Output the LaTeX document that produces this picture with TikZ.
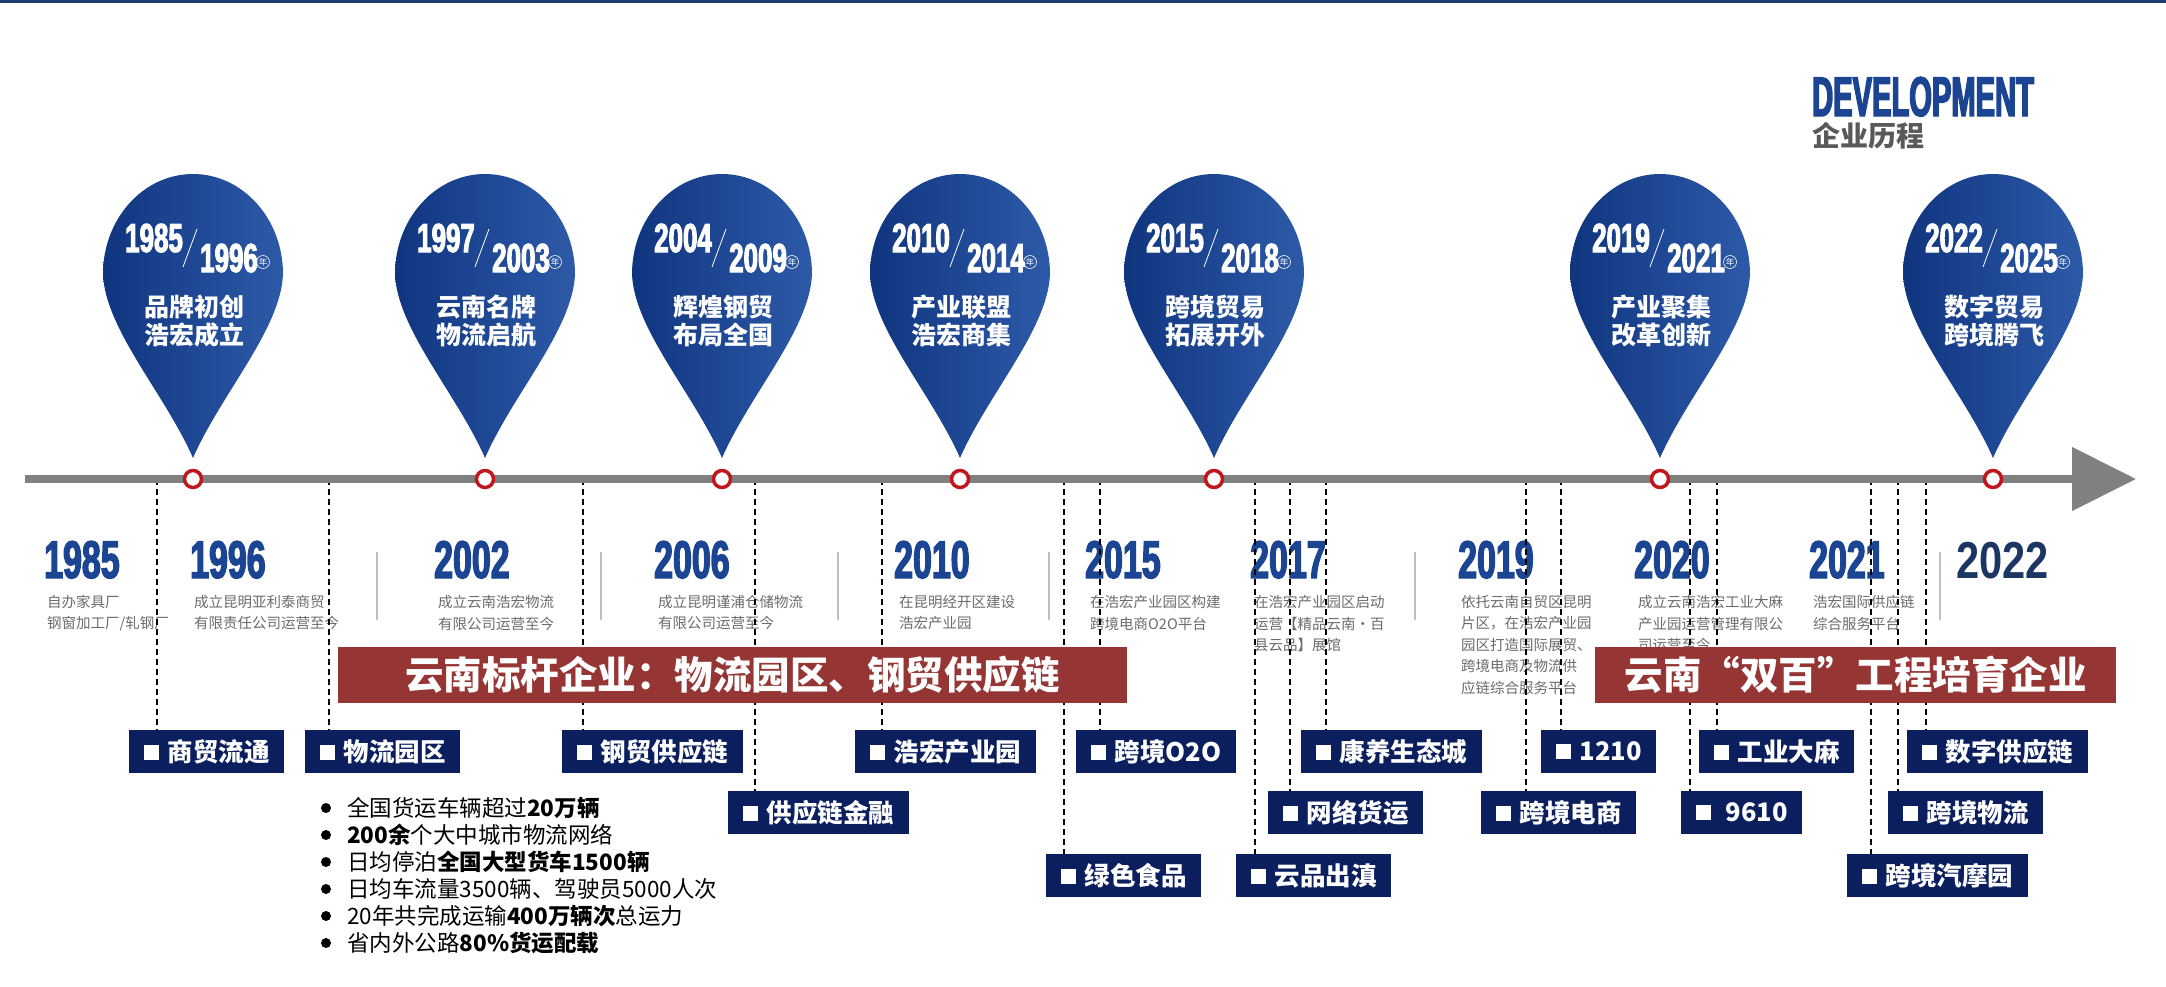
\documentclass[tikz,border=0pt]{standalone}
\usepackage{fontspec}
\setmainfont{Noto Sans CJK SC}
\newfontfamily\yearfont[FakeStretch=0.64, FakeBold=2.5]{Liberation Sans}
\newfontfamily\wideyear[FakeStretch=0.8]{Liberation Sans}
\newfontfamily\titlefont[FakeStretch=0.52, FakeBold=2.5]{Liberation Sans}
\usetikzlibrary{arrows.meta, positioning}

\definecolor{navybox}{HTML}{0B1F5E}
\definecolor{bannerred}{HTML}{963634}
\definecolor{pinleft}{HTML}{10357F}
\definecolor{pinright}{HTML}{2D5AA8}
\definecolor{yearblue}{HTML}{1B4592}
\definecolor{yeardark}{HTML}{1B3663}
\definecolor{ringred}{HTML}{C0161E}
\definecolor{linegray}{HTML}{808080}
\definecolor{textgray}{HTML}{6B6B6B}
\definecolor{topnavy}{HTML}{1F3A6E}

\newcommand{\sq}{\rule[1.5pt]{15pt}{15pt}\hspace{9pt}}

\begin{document}
\begin{tikzpicture}[x=1pt, y=-1pt,
    pinfill/.style={left color=pinleft, right color=pinright, draw=none},
    pinyear/.style={anchor=base west, inner sep=0, text=white, font={\yearfont\bfseries\fontsize{40.5}{40.5}\selectfont}},
    nian/.style={circle, draw=white, line width=0.6pt, inner sep=0.3pt, minimum size=13pt, text=white, font={\fontsize{8.5}{8.5}\selectfont}},
    motto/.style={align=center, inner sep=0, text=white, font={\bfseries\fontsize{25}{28}\selectfont}},
    ring/.style={circle, draw=ringred, line width=3.5pt, fill=white, minimum size=17pt, inner sep=0},
    bigyear/.style={anchor=base west, inner sep=0, text=yearblue, font={\yearfont\bfseries\fontsize{53}{53}\selectfont}},
    desc/.style={anchor=north west, inner sep=0, align=left, text=textgray, font={\fontsize{14.5}{21.5}\selectfont}},
    tagbox/.style={fill=navybox, text=white, minimum height=43pt, inner xsep=14.5pt, inner ysep=0, font={\bfseries\fontsize{25.5}{25.5}\selectfont}},
    leader/.style={black, line width=1.5pt, dash pattern=on 6pt off 4pt},
    banner/.style={fill=bannerred, text=white, inner sep=0, minimum height=56pt, font={\bfseries\fontsize{38.5}{38.5}\selectfont}},
    fact/.style={anchor=west, inner sep=0, text=black, font={\fontsize{22.5}{27}\selectfont}},
    sep/.style={draw=black!25, line width=1.5pt}]

    \useasboundingbox (0,0) rectangle (2166,986);

    % Top rule and title
    \draw[topnavy, line width=3pt] (0,1) -- (2166,1);
    \node[anchor=base west, inner sep=0, text depth=0pt, text=yearblue, font={\titlefont\bfseries\fontsize{56}{56}\selectfont}] (devtitle) at (1812,116) {DEVELOPMENT};
    \node[anchor=base west, inner sep=0, text height=21pt, text depth=0pt, text=black!65, font={\bfseries\fontsize{28}{28}\selectfont}] (devsub) at (1812,146) {企业历程};

    % Years under the timeline
    \foreach \yr/\yx in {1985/44, 1996/190, 2002/434, 2006/654, 2010/894, 2015/1085, 2017/1250, 2019/1458, 2020/1634, 2021/1809}
        \node[bigyear] (year\yr) at (\yx,578) {\yr};
    \node[anchor=base west, inner sep=0, text=yeardark, font={\wideyear\bfseries\fontsize{52}{52}\selectfont}] (year2022) at (1956,578) {2022};

    \foreach \sx in {377, 601, 838, 1049, 1415, 1940}
        \draw[sep] (\sx,552) -- (\sx,620);

    % Descriptions
    \node[desc] (d1985) at (47,595) {自办家具厂\\钢窗加工厂/轧钢厂};
    \node[desc] (d1996) at (194,595) {成立昆明亚利泰商贸\\有限责任公司运营至今};
    \node[desc] (d2002) at (438,595) {成立云南浩宏物流\\有限公司运营至今};
    \node[desc] (d2006) at (658,595) {成立昆明谨浦仓储物流\\有限公司运营至今};
    \node[desc] (d2010) at (899,595) {在昆明经开区建设\\浩宏产业园};
    \node[desc] (d2015) at (1090,595) {在浩宏产业园区构建\\跨境电商O2O平台};
    \node[desc] (d2017) at (1254,595) {在浩宏产业园区启动\\运营【精品云南·百\\县云品】展馆};
    \node[desc] (d2019) at (1461,595) {依托云南自贸区昆明\\片区，在浩宏产业园\\园区打造国际展贸、\\跨境电商及物流供\\应链综合服务平台};
    \node[desc] (d2020) at (1638,595) {成立云南浩宏工业大麻\\产业园运营管理有限公\\司运营至今};
    \node[desc] (d2021) at (1813,595) {浩宏国际供应链\\综合服务平台};

    % Business tags hanging from the timeline
    \foreach \nm/\bx/\by/\dx/\txt in {
        shangmao/129/751.5/157/商贸流通, wuliu/305/751.5/329/物流园区,
        gangmao/562/751.5/583/钢贸供应链, chanyeyuan/855/751.5/882/浩宏产业园,
        otoo/1076/751.5/1100/跨境O2O, kangyang/1301/751.5/1326/康养生态城,
        kj1210/1541/751.5/1561/1210, dama/1699/751.5/1717/工业大麻,
        shuzi/1907/751.5/1926/数字供应链,
        jinrong/728/812.5/755/供应链金融, huoyun/1268/812.5/1290/网络货运,
        dianshang/1481/812.5/1526/跨境电商, kj9610/1681/812.5/1690/\hspace{6pt}9610,
        kjwuliu/1888/812.5/1898/跨境物流,
        lvse/1046/875.5/1064/绿色食品, yunpin/1236/875.5/1255/云品出滇,
        qimo/1847/875.5/1871/跨境汽摩园}
    {
        \node[tagbox, anchor=west] (\nm) at (\bx,\by) {\sq\txt};
        \coordinate (\nm-top) at (\dx,479);
        \draw[leader] (\nm-top) -- (\nm-top |- \nm.north);
    }

    % Red banners
    \node[banner, minimum width=789pt] (bannerA) at (732.5,675) {云南标杆企业：物流园区、钢贸供应链};
    \node[banner, minimum width=521pt] (bannerB) at (1855.5,675) {云南“双百”工程培育企业};

    % Logistics facts
    \foreach \txt [count=\i] in {{全国货运车辆超过\textbf{20万辆}}, {\textbf{200余}个大中城市物流网络},
        {日均停泊\textbf{全国大型货车1500辆}}, {日均车流量3500辆、驾驶员5000人次},
        {20年共完成运输\textbf{400万辆次}总运力}, {省内外公路\textbf{80\%货运配载}}}
    {
        \node[fact] (fact\i) at (347,{808+27*(\i-1)}) {\txt};
        \fill (326,{808+27*(\i-1)}) circle (5pt);
    }

    % Timeline
    \coordinate (tlstart) at (25,479);
    \coordinate (tlend) at (2136,479);
    \draw[linegray, line width=8pt, -{Triangle[length=64pt, width=62pt]}] (tlstart) -- (tlend);

    % Milestone pins
    \foreach \px/\ya/\yb/\la/\lb [count=\i] in {193/1985/1996/品牌初创/浩宏成立, 485/1997/2003/云南名牌/物流启航,
        722/2004/2009/辉煌钢贸/布局全国, 960/2010/2014/产业联盟/浩宏商集, 1214/2015/2018/跨境贸易/拓展开外,
        1660/2019/2021/产业聚集/改革创新, 1993/2022/2025/数字贸易/跨境腾飞}
    {
        \shade[pinfill, shift={(\px,274)}] (0,184) .. controls (28,120) and (88,55) .. (90,0)
            .. controls (90,-55.2) and (49.7,-100) .. (0,-100)
            .. controls (-49.7,-100) and (-90,-55.2) .. (-90,0)
            .. controls (-88,55) and (-28,120) .. (0,184) -- cycle;
        \node[pinyear] (pin\i-from) at (\px-68,252) {\ya};
        \node[pinyear] (pin\i-to) at (\px+7,272) {\yb};
        \draw[white, line width=0.8pt] (\px+4,229) -- (\px-10,267);
        \node[nian] (pin\i-nian) at (\px+70,262) {年};
        \node[motto] (pin\i-motto) at (\px+1,321) {\la\\\lb};
        \node[ring] (dot\i) at (\px,479) {};
    }
\end{tikzpicture}
\end{document}
